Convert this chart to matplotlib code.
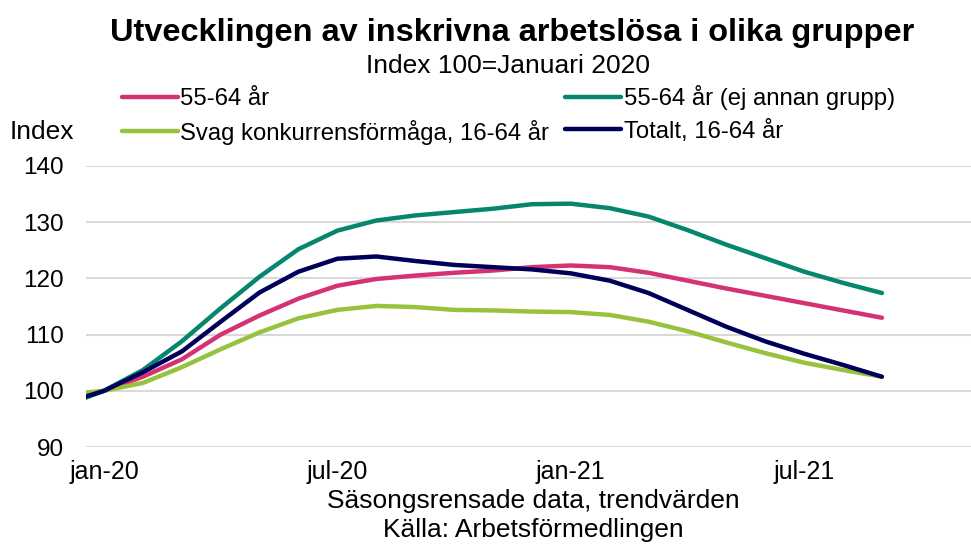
import matplotlib
matplotlib.use("Agg")
import matplotlib.pyplot as plt
import numpy as np

plt.rcParams['font.family'] = ['Liberation Sans', 'DejaVu Sans']

# månader dec-19 .. sep-21 (index 0 = jan-20)
months = np.arange(-1, 21)
tick_pos = [0, 6, 12, 18]
tick_labels = ['jan-20', 'jul-20', 'jan-21', 'jul-21']

age_55_64 = [98.5, 100.0, 102.5, 105.6, 110.0, 113.4, 116.4, 118.7, 119.9, 120.5, 121.0,
             121.4, 122.0, 122.3, 122.0, 121.0, 119.6, 118.2, 116.9, 115.6, 114.3, 113.0]
age_55_64_only = [97.4, 100.0, 103.7, 108.8, 114.7, 120.3, 125.2, 128.5, 130.3, 131.2, 131.8,
                  132.4, 133.2, 133.3, 132.5, 131.0, 128.6, 126.0, 123.6, 121.2, 119.2, 117.4]
weak = [99.3, 100.0, 101.4, 104.2, 107.4, 110.4, 112.9, 114.4, 115.1, 114.9, 114.4,
        114.3, 114.1, 114.0, 113.5, 112.3, 110.6, 108.6, 106.7, 105.0, 103.7, 102.5]
total = [97.8, 100.0, 103.3, 107.0, 112.3, 117.5, 121.2, 123.5, 123.9, 123.1, 122.4,
         122.0, 121.6, 120.9, 119.6, 117.4, 114.4, 111.4, 108.8, 106.6, 104.6, 102.5]

fig = plt.figure(figsize=(9.71, 5.44), dpi=100)
ax = fig.add_axes([86/971, 1 - 447/544, 1 - 86/971, (447 - 166)/544])

l1, = ax.plot(months, age_55_64, color='#D43373', lw=3.2, solid_capstyle='round')
l2, = ax.plot(months, age_55_64_only, color='#06866E', lw=3.2, solid_capstyle='round')
l3, = ax.plot(months, weak, color='#97C23D', lw=3.2, solid_capstyle='round')
l4, = ax.plot(months, total, color='#00005A', lw=3.2, solid_capstyle='round')

ax.set_xlim(-0.463, 22.29)
ax.set_ylim(90, 140)
ax.set_yticks(range(90, 141, 10))
ax.set_xticks(tick_pos)
ax.set_xticklabels(tick_labels)
ax.tick_params(axis='y', length=0, pad=16, labelsize=17.5)
ax.tick_params(axis='x', length=0, pad=9, labelsize=18)
ax.grid(axis='y', color='#d9d9d9', lw=1.5)
ax.set_axisbelow(True)
for s in ax.spines.values():
    s.set_visible(False)

fig.text(0.527, 0.94, 'Utvecklingen av inskrivna arbetslösa i olika grupper',
         ha='center', va='center', fontsize=23.4, fontweight='bold')
fig.text(0.523, 0.878, 'Index 100=Januari 2020', ha='center', va='center', fontsize=19)
fig.text(0.01, 0.757, 'Index', ha='left', va='center', fontsize=19)
fig.text(0.549, 0.079, 'Säsongsrensade data, trendvärden', ha='center', va='center', fontsize=19)
fig.text(0.549, 0.025, 'Källa: Arbetsförmedlingen', ha='center', va='center', fontsize=19)

fig.legend([l1, l3, l2, l4],
           ['55-64 år', 'Svag konkurrensförmåga, 16-64 år', '55-64 år (ej annan grupp)', 'Totalt, 16-64 år'],
           ncol=2, loc='upper left', bbox_to_anchor=(122/971, 1 - 85/544), frameon=False,
           fontsize=17.2, handlelength=2.34, handletextpad=0.1, columnspacing=0.67,
           labelspacing=0.4, borderpad=0, borderaxespad=0)

fig.savefig('out.png', dpi=100)
